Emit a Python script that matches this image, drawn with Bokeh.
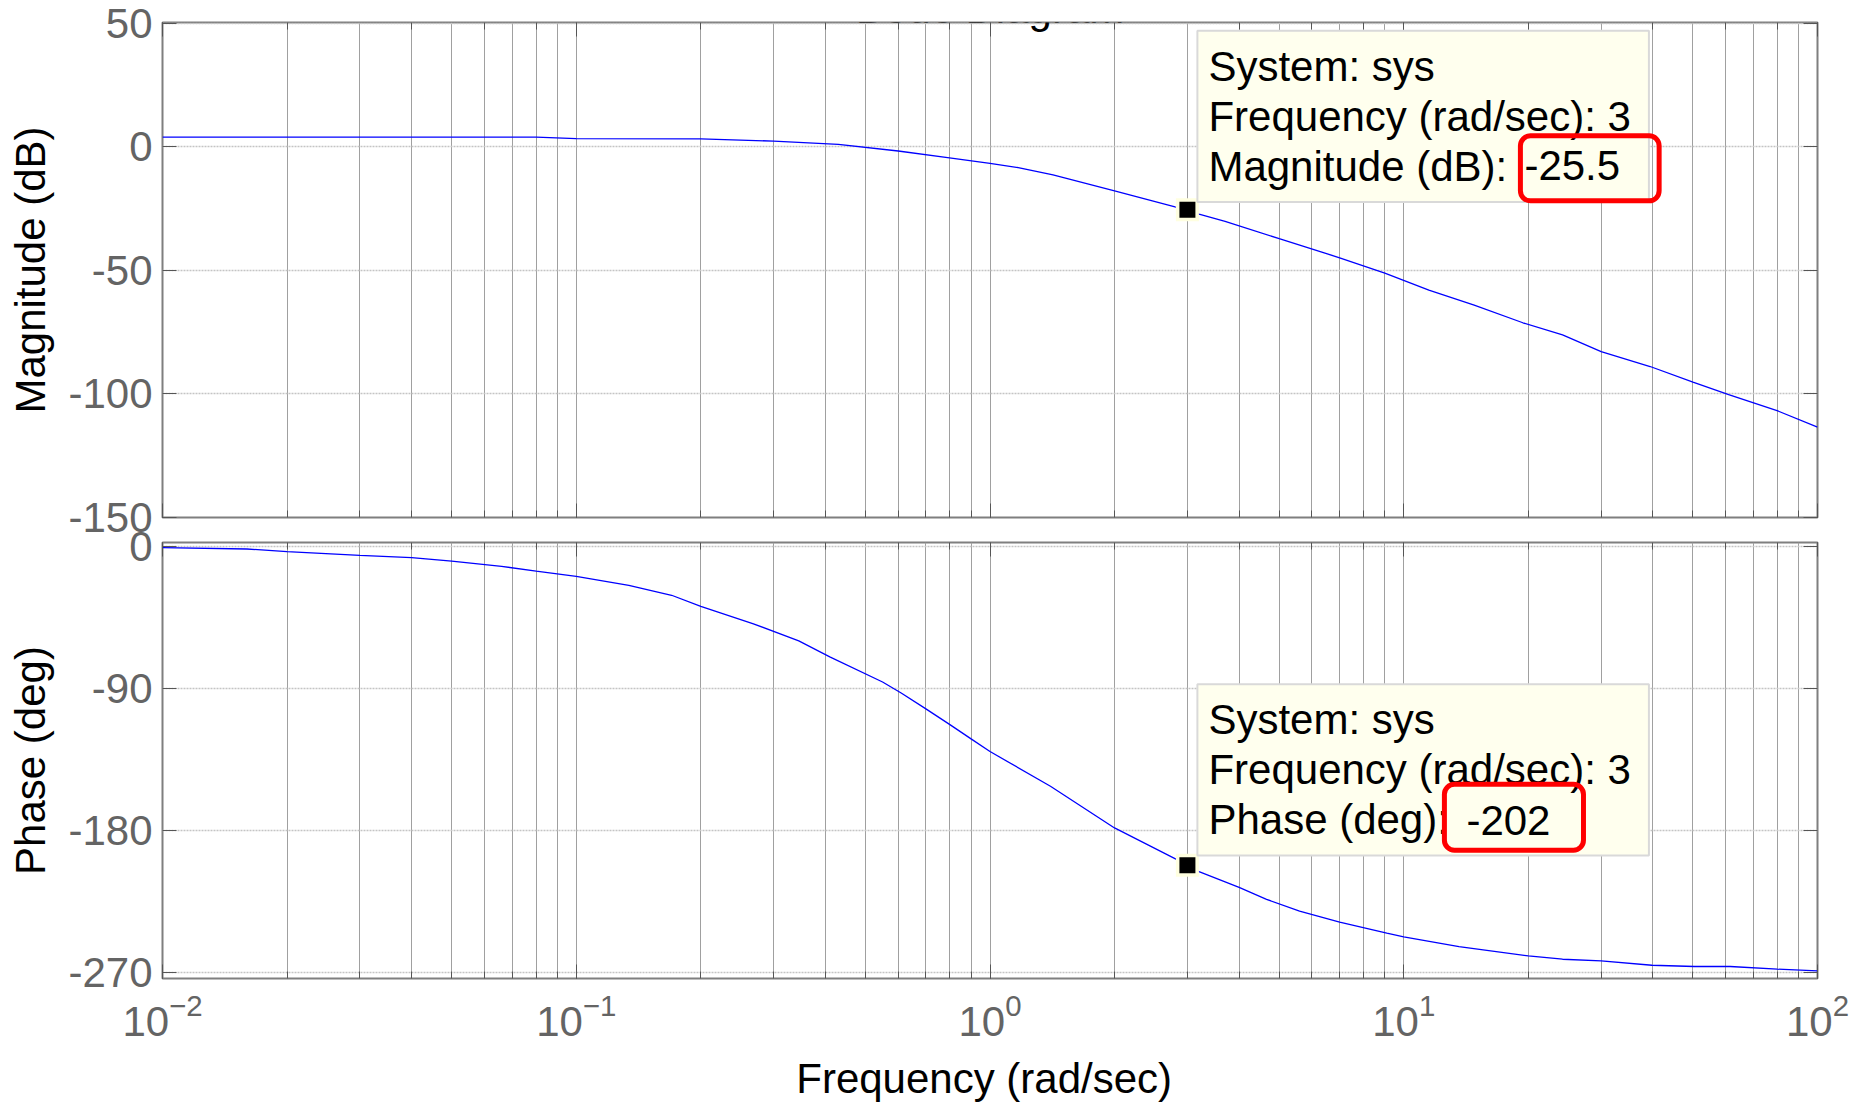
import numpy as np
from bokeh.plotting import figure
from bokeh.models import Range1d, FixedTicker, LogAxis, LinearAxis, Label
from bokeh.layouts import column
from bokeh.embed import file_html
from bokeh.resources import INLINE

# ---------------- data ----------------
freq_mag = [0.01, 0.08, 0.1, 0.2, 0.3, 0.43, 0.6, 0.79, 1.0, 1.17, 1.42, 2.0, 2.8, 3.0,
            3.2, 3.7, 5.0, 7.0, 9.0, 11.5, 14.8, 19.4, 24.2, 30.0, 39.4, 50.0, 61.0, 80.5, 100.0]
mag_db = [3.9, 3.9, 3.3, 3.2, 2.3, 1.0, -1.7, -4.4, -6.7, -8.4, -11.4, -17.8, -24.3, -25.5,
          -27.2, -30.2, -37.2, -44.9, -51.1, -58.0, -64.1, -71.2, -76.1, -82.9, -88.9, -95.2,
          -100.3, -107.0, -113.4]

freq_phase = [0.01, 0.016, 0.02, 0.03, 0.04, 0.05, 0.066, 0.08, 0.1, 0.134, 0.17, 0.2, 0.267,
              0.345, 0.41, 0.55, 0.61, 0.7, 0.8, 0.9, 1.0, 1.4, 2.0, 2.83, 3.0, 3.2, 4.0, 4.66,
              5.6, 7.0, 9.1, 10.0, 13.6, 20.0, 24.2, 30.0, 39.8, 50.4, 61.5, 80.0, 100.0]
phase_deg = [-1.0, -1.8, -3.5, -5.9, -7.3, -9.5, -12.8, -15.8, -19.1, -24.8, -31.1, -38.1,
             -49.0, -60.0, -70.1, -86.0, -93.0, -103.0, -113.0, -122.0, -130.0, -152.0,
             -178.4, -198.4, -202.0, -206.0, -216.0, -223.6, -231.0, -238.0, -245.0, -247.4,
             -253.5, -259.4, -261.5, -262.6, -265.3, -266.1, -266.1, -267.8, -268.9]

mag_ticks = [50, 0, -50, -100, -150]
phase_ticks = [0, -90, -180, -270]
freq_limits = [0.01, 100]
mag_limits = [-150, 50.3]
phase_limits = [-273.7, 2.3]

tip_freq = 3
tip_mag = -25.5
tip_phase = -202

title_text = "Bode Diagram"
mag_label = "Magnitude (dB)"
phase_label = "Phase (deg)"
freq_label = "Frequency  (rad/sec)"

# ---------------- styling ----------------
FONT = "Liberation Sans"
W = 1853
GRAY_TXT = "#646464"
TICK_C = "#555555"


def hide_labels(ax):
    ax.major_label_text_font_size = "2px"
    ax.major_label_text_alpha = 0
    ax.major_label_standoff = 0


def base_style(p, yticks):
    xb = p.below[0]
    yl = p.left[0]
    p.background_fill_color = "white"
    p.outline_line_color = "#7f7f7f"
    p.outline_line_width = 2
    p.xgrid.grid_line_color = "#a0a0a0"
    p.xgrid.grid_line_width = 1
    p.xgrid.minor_grid_line_color = "#a0a0a0"
    p.xgrid.minor_grid_line_width = 1
    p.ygrid.ticker = FixedTicker(ticks=yticks)
    p.ygrid.grid_line_color = "#c4c4c4"
    p.ygrid.grid_line_width = 1.5
    p.ygrid.grid_line_dash = "2 1"

    xb.axis_line_color = None
    xb.major_tick_in = 14
    xb.major_tick_out = 0
    xb.minor_tick_in = 7
    xb.minor_tick_out = 0
    xb.major_tick_line_color = TICK_C
    xb.minor_tick_line_color = TICK_C

    yl.ticker = FixedTicker(ticks=yticks, minor_ticks=[])
    yl.major_label_overrides = {t: str(t) for t in yticks}
    yl.axis_line_color = None
    yl.major_tick_in = 14
    yl.major_tick_out = 0
    yl.minor_tick_in = 0
    yl.minor_tick_out = 0
    yl.major_tick_line_color = TICK_C
    yl.major_label_text_font = FONT
    yl.major_label_text_font_size = "42px"
    yl.major_label_text_color = GRAY_TXT
    yl.major_label_standoff = 10
    yl.axis_label_text_font = FONT
    yl.axis_label_text_font_size = "42px"
    yl.axis_label_text_font_style = "normal"
    yl.axis_label_text_color = "black"
    yl.axis_label_standoff = 11

    top_ax = LogAxis(major_tick_in=14, major_tick_out=0, minor_tick_in=7, minor_tick_out=0,
                     axis_line_color=None, major_tick_line_color=TICK_C,
                     minor_tick_line_color=TICK_C)
    hide_labels(top_ax)
    right_ax = LinearAxis(ticker=FixedTicker(ticks=yticks, minor_ticks=[]),
                          major_tick_in=14, major_tick_out=0, minor_tick_in=0, minor_tick_out=0,
                          axis_line_color=None, major_tick_line_color=TICK_C)
    hide_labels(right_ax)
    p.add_layout(top_ax, "above")
    p.add_layout(right_ax, "right")
    return xb, yl


def add_tip(p, fx, fy, lines, box_off, value_text, val_off, val_pad):
    p.scatter([fx], [fy], marker="square", size=23, fill_color="#ffffe0", line_color=None)
    p.scatter([fx], [fy], marker="square", size=16, fill_color="black", line_color=None)
    box = Label(x=fx, y=fy, x_offset=box_off[0], y_offset=box_off[1], text=lines,
                text_font=FONT, text_font_size="42px", text_color="black",
                text_align="left", text_baseline="top", text_line_height=1.066,
                background_fill_color="#ffffee", border_line_color="#d9d9d9",
                border_line_width=2,
                padding=dict(left=11, right=18, top=12, bottom=12))
    p.add_layout(box)
    val = Label(x=fx, y=fy, x_offset=val_off[0], y_offset=val_off[1], text=value_text,
                text_font=FONT, text_font_size="42px", text_color="black",
                text_align="left", text_baseline="top",
                border_line_color="#ff0000",
                border_line_width=5, border_radius=10, padding=val_pad)
    p.add_layout(val)


# ---------------- magnitude panel ----------------
p1 = figure(width=W, height=550, x_axis_type="log",
            x_range=Range1d(*freq_limits), y_range=Range1d(*mag_limits),
            output_backend="svg", toolbar_location=None,
            min_border_left=162, min_border_right=36, min_border_top=22, min_border_bottom=33)
p1.border_fill_color = "white"
p1.line(freq_mag, mag_db, line_color="#0000ff", line_width=1.3)
xb1, yl1 = base_style(p1, mag_ticks)
hide_labels(xb1)
yl1.axis_label = mag_label

add_tip(p1, tip_freq, tip_mag,
        "System: sys\nFrequency (rad/sec): %g\nMagnitude (dB): " % tip_freq, (10, 179),
        "%g" % tip_mag, (333, 74), dict(left=4, right=39, top=15, bottom=21))

p1.add_layout(Label(x=1.0, y=mag_limits[1], y_offset=14, text=title_text,
                    text_font=FONT, text_font_size="42px", text_color="black",
                    text_align="center", text_baseline="alphabetic"))

# ---------------- phase panel ----------------
p2 = figure(width=W, height=584, x_axis_type="log",
            x_range=p1.x_range, y_range=Range1d(*phase_limits),
            output_backend="svg", toolbar_location=None,
            min_border_left=162, min_border_right=36, min_border_top=22, min_border_bottom=125,
            margin=(-30, 0, 0, 0))
p2.border_fill_alpha = 0
p2.line(freq_phase, phase_deg, line_color="#0000ff", line_width=1.3)
xb2, yl2 = base_style(p2, phase_ticks)
xb2.major_label_text_font = FONT
xb2.major_label_text_font_size = "42px"
xb2.major_label_text_color = GRAY_TXT
xb2.major_label_standoff = 14
xb2.axis_label = freq_label
xb2.axis_label_text_font = FONT
xb2.axis_label_text_font_size = "42px"
xb2.axis_label_text_font_style = "normal"
xb2.axis_label_text_color = "black"
xb2.axis_label_standoff = 16
yl2.axis_label = phase_label

add_tip(p2, tip_freq, tip_phase,
        "System: sys\nFrequency (rad/sec): %g\nPhase (deg): " % tip_freq, (10, 181),
        "%g" % tip_phase, (257, 81), dict(left=22, right=33, top=22, bottom=15))

layout = column(p1, p2, spacing=0)
open("out.html", "w").write(file_html(layout, INLINE))
